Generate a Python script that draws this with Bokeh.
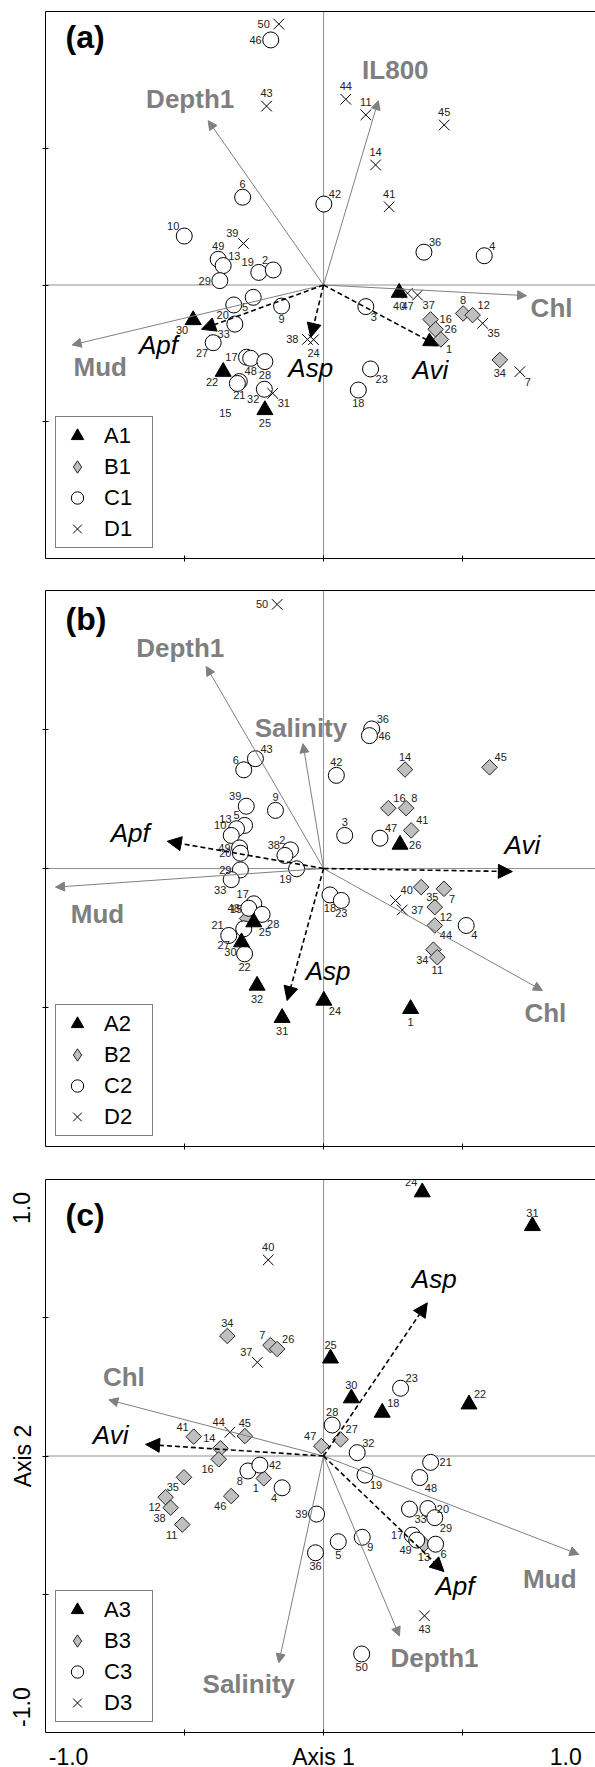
import math
from bokeh.plotting import figure
from bokeh.models import (ColumnDataSource, Arrow, NormalHead, Span, Label, Legend,
                          LegendItem, LinearAxis, FixedTicker, Range1d)
from bokeh.layouts import column
from bokeh.core.properties import value, field
from bokeh.embed import file_html
from bokeh.resources import INLINE

# ---------------- Panel (a) ----------------
a_id = [50, 46, 43, 6, 10, 39, 49, 13, 19, 2, 29, 20, 5, 9, 30, 33, 27, 17, 48, 28,
        22, 21, 15, 32, 31, 25, 38, 24, 42, 44, 11, 45, 14, 41, 36, 4, 40, 47, 37, 3,
        8, 12, 35, 16, 26, 1, 34, 7, 23, 18]
a_x = [-0.161, -0.190, -0.205, -0.291, -0.501, -0.288, -0.379, -0.361, -0.233, -0.181,
       -0.373, -0.323, -0.253, -0.151, -0.469, -0.319, -0.397, -0.277, -0.262, -0.211,
       -0.361, -0.303, -0.310, -0.213, -0.183, -0.211, -0.058, -0.036, 0.001, 0.080,
       0.152, 0.434, 0.187, 0.236, 0.361, 0.578, 0.272, 0.302, 0.338, 0.152,
       0.502, 0.536, 0.572, 0.385, 0.403, 0.422, 0.634, 0.706, 0.169, 0.125]
a_y = [0.954, 0.896, 0.654, 0.321, 0.179, 0.152, 0.094, 0.071, 0.046, 0.055,
       0.016, -0.073, -0.045, -0.077, -0.128, -0.143, -0.211, -0.264, -0.268, -0.280,
       -0.317, -0.353, -0.360, -0.381, -0.396, -0.457, -0.199, -0.200, 0.296, 0.679,
       0.622, 0.585, 0.439, 0.286, 0.120, 0.107, -0.028, -0.030, -0.037, -0.079,
       -0.104, -0.110, -0.140, -0.126, -0.162, -0.199, -0.274, -0.317, -0.307, -0.384]
a_grp = ["D", "C", "D", "C", "C", "D", "C", "C", "C", "C", "C", "C", "C", "C", "A", "C",
         "C", "C", "C", "C", "A", "C", "C", "C", "D", "A", "D", "D", "C", "D", "D", "D",
         "D", "D", "C", "C", "A", "D", "D", "C", "B", "B", "D", "B", "B", "B", "B", "D",
         "C", "C"]
a_env = ["Depth1", "IL800", "Chl", "Mud"]
a_env_x = [-0.415, 0.197, 0.730, -0.904]
a_env_y = [0.601, 0.674, -0.039, -0.219]
a_spp = ["Apf", "Asp", "Avi"]
a_spp_x = [-0.439, -0.046, 0.413]
a_spp_y = [-0.162, -0.191, -0.223]

# ---------------- Panel (b) ----------------
b_id = [50, 36, 46, 14, 45, 42, 16, 8, 41, 3, 47, 26, 43, 6, 39, 9, 5, 13, 10, 49,
        20, 29, 33, 2, 38, 19, 17, 48, 28, 15, 25, 21, 27, 30, 22, 32, 31, 24, 18, 23,
        40, 37, 35, 7, 12, 44, 4, 34, 11, 1]
b_x = [-0.167, 0.173, 0.165, 0.293, 0.597, 0.046, 0.233, 0.297, 0.315, 0.076,
       0.203, 0.275, -0.245, -0.287, -0.278, -0.173, -0.284, -0.313, -0.332, -0.302,
       -0.299, -0.299, -0.332, -0.119, -0.139, -0.097, -0.251, -0.269, -0.221, -0.275,
       -0.251, -0.341, -0.287, -0.295, -0.284, -0.239, -0.149, 0.001, 0.023, 0.064,
       0.259, 0.283, 0.351, 0.433, 0.400, 0.400, 0.513, 0.395, 0.409, 0.313]
b_y = [0.950, 0.502, 0.478, 0.356, 0.364, 0.335, 0.217, 0.217, 0.137, 0.119,
       0.109, 0.086, 0.395, 0.355, 0.224, 0.209, 0.155, 0.143, 0.119, 0.074,
       0.055, -0.005, -0.040, 0.067, 0.047, -0.001, -0.127, -0.143, -0.165, -0.180,
       -0.193, -0.241, -0.217, -0.265, -0.307, -0.421, -0.537, -0.475, -0.095, -0.115,
       -0.115, -0.149, -0.067, -0.073, -0.139, -0.205, -0.205, -0.292, -0.319, -0.505]
b_grp = ["D", "C", "C", "B", "B", "C", "B", "B", "B", "C", "C", "A", "C", "C", "C", "C",
         "C", "C", "C", "C", "C", "C", "C", "C", "C", "C", "C", "C", "C", "B", "A", "C",
         "C", "A", "C", "A", "A", "A", "C", "C", "D", "D", "B", "B", "B", "B", "C", "B",
         "B", "A"]
b_env = ["Depth1", "Salinity", "Chl", "Mud"]
b_env_x = [-0.422, -0.074, 0.787, -0.964]
b_env_y = [0.727, 0.449, -0.439, -0.067]
b_spp = ["Apf", "Asp", "Avi"]
b_spp_x = [-0.562, -0.131, 0.679]
b_spp_y = [0.098, -0.475, -0.011]

# ---------------- Panel (c) ----------------
c_id = [24, 31, 40, 34, 7, 26, 37, 25, 30, 23, 18, 22, 28, 27, 47, 32, 41, 44, 45, 14,
        16, 35, 12, 38, 11, 46, 8, 42, 1, 4, 39, 36, 21, 19, 48, 33, 20, 29, 17, 49,
        13, 6, 9, 5, 43, 50]
c_x = [0.355, 0.751, -0.199, -0.346, -0.191, -0.167, -0.238, 0.025, 0.100, 0.277,
       0.211, 0.523, 0.031, 0.061, -0.008, 0.121, -0.467, -0.337, -0.283, -0.371,
       -0.377, -0.502, -0.568, -0.550, -0.508, -0.332, -0.272, -0.229, -0.215, -0.149,
       -0.025, -0.029, 0.385, 0.149, 0.346, 0.309, 0.375, 0.400, 0.319, 0.335,
       0.361, 0.403, 0.139, 0.053, 0.363, 0.137]
c_y = [0.954, 0.832, 0.709, 0.434, 0.401, 0.387, 0.339, 0.353, 0.209, 0.245,
       0.157, 0.187, 0.112, 0.060, 0.036, 0.012, 0.070, 0.086, 0.072, 0.028,
       -0.012, -0.077, -0.149, -0.187, -0.248, -0.145, -0.054, -0.033, -0.081, -0.115,
       -0.210, -0.350, -0.023, -0.069, -0.078, -0.192, -0.190, -0.223, -0.286, -0.304,
       -0.319, -0.319, -0.294, -0.310, -0.578, -0.716]
c_grp = ["A", "A", "D", "B", "B", "B", "D", "A", "A", "C", "A", "A", "C", "B", "B", "C",
         "B", "D", "B", "B", "B", "B", "B", "B", "B", "B", "C", "C", "B", "C", "C", "C",
         "C", "C", "C", "C", "C", "C", "C", "C", "B", "C", "C", "C", "D", "C"]
c_env = ["Chl", "Salinity", "Depth1", "Mud"]
c_env_x = [-0.772, -0.161, 0.273, 0.918]
c_env_y = [0.203, -0.748, -0.651, -0.356]
c_spp = ["Avi", "Asp", "Apf"]
c_spp_x = [-0.640, 0.373, 0.433]
c_spp_y = [0.042, 0.554, -0.418]

# ---------------- label placement (style, screen pixels) ----------------
a_lab = ["l", "l", "t", "t", "ul", "ul", "t", "ur", "ul", "ul", "l", "ll", "ll", "b", "ll", "ll",
         "ll", "l", "b", "b", "ll", "b", "fb", "ll", "lr", "b", "l", "b", "ur", "t", "t", "t",
         "t", "t", "ur", "ur", "b", "b", "lr", "lr", "t", "ur", "lr", "r", "r", "lr", "b", "lr",
         "lr", "b"]
b_lab = ["l", "ur", "r", "t", "ur", "t", "ur", "ur", "ur", "t", "ur", "r", "ur", "ul", "ul", "t",
         "ul", "ul", "ul", "l", "l", "l", "ll", "ul", "ul", "ll", "ul", "l", "lr", "ul", "lr", "ul",
         "fl", "ll", "b", "b", "b", "lr", "b", "b", "ur", "r", "lr", "lr", "lr", "lr", "lr", "ll",
         "b", "b"]
c_lab = ["ul", "t", "t", "t", "ul", "ur", "ul", "t", "t", "ur", "ur", "ur", "t", "ur", "ul", "ur",
         "ul", "ul", "t", "ul", "ll", "ll", "ll", "ll", "ll", "ll", "ll", "r", "ll", "ll", "l", "b",
         "r", "lr", "lr", "lr", "r", "lr", "l", "ll", "b", "lr", "lr", "b", "b", "b"]
a_env_off = [(-18, -22), (17, -31), (25, 12), (28, 22)]
a_spp_off = [(-43, 16), (0, 31), (-8, 24)]
b_env_off = [(-26, -18), (-2, -16), (3, 22), (42, 27)]
b_spp_off = [(-37, -8), (41, -30), (10, -27)]
c_env_off = [(15, -23), (-30, 21), (35, 22), (-29, 25)]
c_spp_off = [(-35, -9), (7, -24), (11, 14)]

LAB_OFF = {
    "t": (0, -9, "center", "bottom"),
    "b": (0, 9, "center", "top"),
    "l": (-9, 0, "right", "middle"),
    "r": (9, 0, "left", "middle"),
    "ul": (-5, -6, "right", "bottom"),
    "ur": (5, -6, "left", "bottom"),
    "ll": (-5, 6, "right", "top"),
    "lr": (5, 6, "left", "top"),
    "fb": (-6, 26, "right", "top"),
    "fl": (-14, 12, "right", "top"),
}

FONT = "Liberation Sans"
ENV_COLOR = "#7f7f7f"

STYLE = {
    "A": dict(marker="triangle", size=16, fill_color="black", line_color="black", angle=0.0),
    "B": dict(marker="square", size=11, fill_color="#bfbfbf", line_color="#222222", angle=math.pi / 4),
    "C": dict(marker="circle", size=16, fill_color="white", line_color="black", angle=0.0),
    "D": dict(marker="x", size=15, fill_color=None, line_color="black", angle=0.0),
}
LEGEND_MARKER = {"A": "triangle", "B": "diamond", "C": "circle", "D": "x"}


def make_panel(tag, num, ids, xs, ys, grps, labs, env, ex, ey, eoff, spp, sx, sy, soff,
               frame_h, top, bottom, tag_dy, show_ticks_labels):
    p = figure(frame_width=550, frame_height=frame_h,
               x_range=Range1d(-1.0, 0.978), y_range=Range1d(-1.0, 1.0),
               output_backend="svg", toolbar_location=None,
               x_axis_type=None, y_axis_type=None,
               min_border_left=45, min_border_right=0,
               min_border_top=top, min_border_bottom=bottom,
               outline_line_color=None, background_fill_color="white")
    p.grid.visible = False

    # axes
    if show_ticks_labels:
        xt = FixedTicker(ticks=[-0.917, 0.0, 0.871], minor_ticks=[-0.5, 0.0, 0.5])
        yt = FixedTicker(ticks=[-0.908, 0.0, 0.897], minor_ticks=[-0.5, 0.0, 0.5])
        xax = LinearAxis(ticker=xt, major_tick_line_color=None, major_tick_in=0, major_tick_out=0,
                         minor_tick_in=3, minor_tick_out=3, minor_tick_line_color="black",
                         major_label_overrides={-0.917: "-1.0", 0.0: "Axis 1", 0.871: "1.0"},
                         major_label_text_font=FONT, major_label_text_font_size="23px",
                         major_label_text_color="black", major_label_standoff=8,
                         axis_line_color="black")
        yax = LinearAxis(ticker=yt, major_tick_line_color=None, major_tick_in=0, major_tick_out=0,
                         minor_tick_in=3, minor_tick_out=3, minor_tick_line_color="black",
                         major_label_overrides={-0.908: "-1.0", 0.0: "Axis 2", 0.897: "1.0"},
                         major_label_text_font=FONT, major_label_text_font_size="23px",
                         major_label_text_color="black", major_label_standoff=7,
                         major_label_orientation="vertical",
                         axis_line_color="black")
    else:
        xt = FixedTicker(ticks=[], minor_ticks=[-0.5, 0.0, 0.5])
        yt = FixedTicker(ticks=[], minor_ticks=[-0.5, 0.0, 0.5])
        xax = LinearAxis(ticker=xt, major_tick_line_color=None, major_tick_in=0, major_tick_out=0,
                         minor_tick_in=3, minor_tick_out=3, minor_tick_line_color="black",
                         major_label_standoff=0, axis_line_color="black")
        yax = LinearAxis(ticker=yt, major_tick_line_color=None, major_tick_in=0, major_tick_out=0,
                         minor_tick_in=3, minor_tick_out=3, minor_tick_line_color="black",
                         major_label_standoff=0, axis_line_color="black")
    p.add_layout(xax, "below")
    p.add_layout(yax, "left")
    tax = LinearAxis(ticker=FixedTicker(ticks=[], minor_ticks=[]), major_tick_line_color=None,
                     minor_tick_line_color=None, major_label_standoff=0,
                     major_tick_out=0, major_tick_in=0, minor_tick_out=0, minor_tick_in=0,
                     axis_line_color="black")
    p.add_layout(tax, "above")

    # dotted zero lines
    p.add_layout(Span(location=0, dimension="width", line_color="#222222", line_width=1,
                      line_dash="1 1", level="underlay"))
    p.add_layout(Span(location=0, dimension="height", line_color="#222222", line_width=1,
                      line_dash="1 1", level="underlay"))

    # points
    for g in ["B", "C", "A", "D"]:
        idx = [i for i, gg in enumerate(grps) if gg == g]
        src = ColumnDataSource(dict(x=[xs[i] for i in idx], y=[ys[i] for i in idx]))
        st = STYLE[g]
        p.scatter("x", "y", source=src, marker=st["marker"], size=st["size"],
                  fill_color=st["fill_color"], line_color=st["line_color"],
                  line_width=1, angle=st["angle"])

    # legend-only renderers (a single non-drawable NaN point) so legend glyphs match
    leg_r = {}
    for g in ["A", "B", "C", "D"]:
        st = STYLE[g]
        leg_r[g] = p.scatter(x=[float("nan")], y=[float("nan")], marker=LEGEND_MARKER[g],
                             size=st["size"], fill_color=st["fill_color"],
                             line_color=st["line_color"], line_width=1)

    # sample number labels
    lsrc = ColumnDataSource(dict(
        x=xs, y=ys, t=[str(i) for i in ids],
        xo=[LAB_OFF[c][0] for c in labs], yo=[LAB_OFF[c][1] for c in labs],
        al=[LAB_OFF[c][2] for c in labs], bl=[LAB_OFF[c][3] for c in labs]))
    p.text("x", "y", text="t", x_offset=field("xo"), y_offset=field("yo"),
           text_align=field("al"), text_baseline=field("bl"), source=lsrc,
           text_font=value(FONT), text_font_size=value("11px"), text_color="#222222")

    # environmental vectors
    esrc = ColumnDataSource(dict(x0=[0.0] * len(env), y0=[0.0] * len(env), x=ex, y=ey, name=env,
                                 xo=[o[0] for o in eoff], yo=[o[1] for o in eoff]))
    p.add_layout(Arrow(x_start="x0", y_start="y0", x_end="x", y_end="y", source=esrc,
                       line_color="#808080", line_width=1,
                       end=NormalHead(size=9, fill_color="#808080", line_color="#808080")))
    p.text("x", "y", text="name", x_offset=field("xo"), y_offset=field("yo"), source=esrc,
           text_align="center", text_baseline="middle", text_font=value(FONT),
           text_font_size=value("26px"), text_font_style="bold", text_color=ENV_COLOR)

    # species vectors
    ssrc = ColumnDataSource(dict(x0=[0.0] * len(spp), y0=[0.0] * len(spp), x=sx, y=sy, name=spp,
                                 xo=[o[0] for o in soff], yo=[o[1] for o in soff]))
    p.add_layout(Arrow(x_start="x0", y_start="y0", x_end="x", y_end="y", source=ssrc,
                       line_color="black", line_width=1.6, line_dash="5 3",
                       end=NormalHead(size=14, fill_color="black", line_color="black")))
    p.text("x", "y", text="name", x_offset=field("xo"), y_offset=field("yo"), source=ssrc,
           text_align="center", text_baseline="middle", text_font=value(FONT),
           text_font_size=value("26px"), text_font_style="italic", text_color="black")

    # panel tag
    p.add_layout(Label(x=-1.0 + 20 / 278.0, y=1.0 - tag_dy / (frame_h / 2.0), text=tag,
                       text_font=FONT, text_font_size="32px", text_font_style="bold",
                       text_baseline="top", text_align="left", text_color="black"))

    # legend
    items = [LegendItem(label=f"{g}{num}", renderers=[leg_r[g]], index=0)
             for g in ["A", "B", "C", "D"]]
    leg = Legend(items=items, location="bottom_left", margin=10, padding=3, spacing=0,
                 glyph_width=36, glyph_height=31, label_height=31, label_width=45,
                 label_standoff=9, label_text_font=FONT, label_text_font_size="22px",
                 label_text_color="black", border_line_color="black", border_line_width=1,
                 background_fill_color="white", background_fill_alpha=1.0)
    p.add_layout(leg)
    return p


pa = make_panel("(a)", 1, a_id, a_x, a_y, a_grp, a_lab, a_env, a_env_x, a_env_y, a_env_off,
                a_spp, a_spp_x, a_spp_y, a_spp_off, 547, 11, 16, 7, False)
pb = make_panel("(b)", 2, b_id, b_x, b_y, b_grp, b_lab, b_env, b_env_x, b_env_y, b_env_off,
                b_spp, b_spp_x, b_spp_y, b_spp_off, 556, 16, 16, 10, False)
pc = make_panel("(c)", 3, c_id, c_x, c_y, c_grp, c_lab, c_env, c_env_x, c_env_y, c_env_off,
                c_spp, c_spp_x, c_spp_y, c_spp_off, 553, 17, 35, 17, True)

layout = column(pa, pb, pc, spacing=0)
open("out.html", "w").write(file_html(layout, INLINE))
